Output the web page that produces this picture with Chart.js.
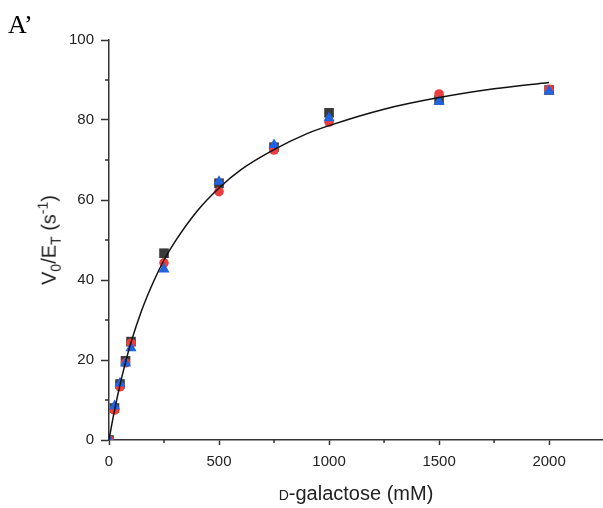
<!DOCTYPE html>
<html>
<head>
<meta charset="utf-8">
<script src="https://cdn.jsdelivr.net/npm/chart.js@4"></script>
<style>
  html, body { margin: 0; padding: 0; background: #fff; }
  #wrap { position: relative; width: 603px; height: 508px; }
  #chart { position: absolute; left: 0; top: 0; }
  .lbl { position: absolute; font-family: "Liberation Sans", Arial, sans-serif; color: #222; white-space: nowrap; }
  #panel { left: 8px; top: 10px; font-family: "Liberation Serif", "Times New Roman", serif; font-size: 26px; color: #000; }
  #ytitle { left: 49px; top: 240px; font-size: 20px; transform: translate(-50%, -50%) rotate(-90deg); }
  #xtitle { left: 356px; top: 493px; font-size: 20px; transform: translate(-50%, -50%); }
  sub, sup { font-size: 0.7em; }
</style>
</head>
<body>
<div id="wrap">
  <canvas id="chart" width="603" height="508"></canvas>
  <div class="lbl" id="panel">A’</div>
  <div class="lbl" id="ytitle">V<sub>0</sub>/E<sub>T</sub> (s<sup>-1</sup>)</div>
  <div class="lbl" id="xtitle"><span style="font-variant: small-caps;">d</span>-galactose (mM)</div>
</div>
<script>
// substrate concentrations (mM)
const concentrations = [0, 25, 50, 75, 100, 250, 500, 750, 1000, 1500, 2000];
// V0/ET replicates (s-1)
const rep1 = [0, 8.0, 14.0, 19.8, 24.6, 46.7, 64.2, 73.2, 81.8, 85.0, 87.5];   // black squares
const rep2 = [0, 7.5, 13.3, 19.3, 24.2, 44.3, 62.1, 72.5, 79.5, 86.5, 87.7];   // red circles
const rep3 = [0, 8.5, 14.2, 19.2, 23.0, 42.7, 64.6, 73.8, 80.5, 84.6, 87.2];   // blue triangles

// fitted curve
const fitX = [0, 10, 25, 50, 75, 100, 150, 200, 250, 300, 400, 500, 600, 750, 900, 1000, 1250, 1500, 1750, 2000];
const fitY = [0, 3.1, 7.4, 13.8, 19.4, 24.4, 32.6, 39.3, 45.0, 49.6, 57.2, 63.0, 67.6, 72.6, 76.6, 78.6, 82.7, 85.6, 87.8, 89.4];

// axis ticks
const xTicks = [0, 500, 1000, 1500, 2000];
const yTicks = [0, 20, 40, 60, 80, 100];
const xMinorTicks = [250, 750, 1250, 1750];
const yMinorTicks = [10, 30, 50, 70, 90];

const axisColor = "#333333";
const tickFont = { family: "'Liberation Sans', Arial, sans-serif", size: 15 };
const toPoints = vals => vals.map((v, i) => ({ x: concentrations[i], y: v }));

// let the x axis run to the right edge of the canvas
const fullWidthX = {
  id: "fullWidthX",
  afterLayout(chart) {
    const x = chart.scales.x;
    x.right = chart.width;
    x.width = x.right - x.left;
    chart.chartArea.right = x.right;
    chart.chartArea.width = x.right - chart.chartArea.left;
    x.configure();
  }
};

// short minor ticks outside the axes
const minorTicks = {
  id: "minorTicks",
  afterDraw(chart) {
    const { ctx, scales: { x, y } } = chart;
    ctx.save();
    ctx.strokeStyle = axisColor;
    ctx.lineWidth = 1.5;
    ctx.beginPath();
    xMinorTicks.forEach(v => {
      const px = x.getPixelForValue(v);
      ctx.moveTo(px, y.bottom);
      ctx.lineTo(px, y.bottom + 3);
    });
    yMinorTicks.forEach(v => {
      const py = y.getPixelForValue(v);
      ctx.moveTo(x.left, py);
      ctx.lineTo(x.left - 4, py);
    });
    ctx.stroke();
    ctx.restore();
  }
};

new Chart(document.getElementById("chart"), {
  type: "scatter",
  data: {
    datasets: [
      {
        type: "line",
        label: "Fit",
        data: fitX.map((v, i) => ({ x: v, y: fitY[i] })),
        borderColor: "#111111",
        borderWidth: 1.5,
        pointRadius: 0,
        cubicInterpolationMode: "monotone",
        fill: false,
        order: 0
      },
      {
        label: "Replicate 3",
        data: toPoints(rep3),
        pointStyle: "triangle",
        pointRadius: 6.4,
        backgroundColor: "#1f63e0",
        borderColor: "#1f63e0",
        borderWidth: 0,
        order: 1
      },
      {
        label: "Replicate 2",
        data: toPoints(rep2),
        pointStyle: "circle",
        pointRadius: 4.8,
        backgroundColor: "#ee3d3d",
        borderColor: "#ee3d3d",
        borderWidth: 0,
        order: 2
      },
      {
        label: "Replicate 1",
        data: toPoints(rep1),
        pointStyle: "rect",
        pointRadius: 6.8,
        backgroundColor: "#3a3a3a",
        borderColor: "#3a3a3a",
        borderWidth: 0,
        order: 3
      }
    ]
  },
  options: {
    responsive: false,
    animation: false,
    layout: { padding: { left: 0, top: 40, right: 0, bottom: 0 } },
    plugins: { legend: { display: false }, tooltip: { enabled: false } },
    scales: {
      x: {
        type: "linear",
        min: 0,
        max: 2245,
        afterBuildTicks: scale => { scale.ticks = xTicks.map(v => ({ value: v })); },
        afterFit: scale => { scale.height = 68; },
        border: { display: true, color: axisColor, width: 1.5 },
        grid: { display: true, drawOnChartArea: false, drawTicks: true, tickLength: 5, tickColor: axisColor, tickWidth: 1.5 },
        ticks: { padding: 8, color: "#222", font: tickFont, autoSkip: false, maxRotation: 0, callback: v => String(v) }
      },
      y: {
        min: 0,
        max: 100,
        afterBuildTicks: scale => { scale.ticks = yTicks.map(v => ({ value: v })); },
        afterFit: scale => { scale.width = 109; },
        border: { display: true, color: axisColor, width: 1.5 },
        grid: { display: true, drawOnChartArea: false, drawTicks: true, tickLength: 8, tickColor: axisColor, tickWidth: 1.5 },
        ticks: { padding: 7, color: "#222", font: tickFont, callback: v => String(v) }
      }
    }
  },
  plugins: [fullWidthX, minorTicks]
});
</script>
</body>
</html>
